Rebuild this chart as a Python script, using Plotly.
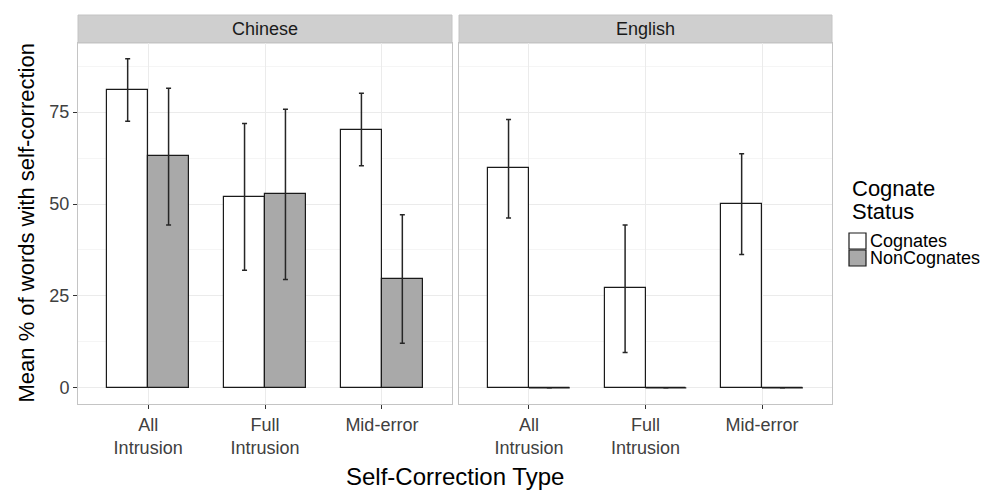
import plotly.graph_objects as go

panels = ["Chinese", "English"]
categories = ["All<br>Intrusion", "Full<br>Intrusion", "Mid-error"]
groups = ["Cognates", "NonCognates"]
legend_title = "Cognate<br>Status"

# values per panel: [All Intrusion, Full Intrusion, Mid-error]
cog_mean = {"Chinese": [81.0, 52.0, 70.2], "English": [59.8, 27.1, 50.0]}
cog_lo = {"Chinese": [72.5, 32.0, 60.4], "English": [46.2, 9.6, 36.3]}
cog_hi = {"Chinese": [89.5, 71.9, 80.1], "English": [73.0, 44.3, 63.7]}
non_mean = {"Chinese": [63.0, 52.6, 29.7], "English": [0.0, 0.0, 0.0]}
non_lo = {"Chinese": [44.3, 29.5, 12.1], "English": [0.0, 0.0, 0.0]}
non_hi = {"Chinese": [81.5, 75.8, 47.1], "English": [0.0, 0.0, 0.0]}

fills = {"Cognates": "#ffffff", "NonCognates": "#a9a9a9"}
BW = 0.35
FONT = "Liberation Sans, Arial, sans-serif"
EDGE = "#1a1a1a"

W, H = 989, 490
ML, MR, MT, MB = 78, 157, 43, 86
pw = W - ML - MR
ph = H - MT - MB


def px(xp):
    return (xp - ML) / pw


def py(yp):
    return (H - MB - yp) / ph


fig = go.Figure()
xpos = [1, 2, 3]
for pi, p in enumerate(panels):
    xa = "x" if pi == 0 else "x2"
    ya = "y" if pi == 0 else "y2"
    for g in groups:
        if g == "Cognates":
            m, lo, hi = cog_mean[p], cog_lo[p], cog_hi[p]
            off = -BW / 2
        else:
            m, lo, hi = non_mean[p], non_lo[p], non_hi[p]
            off = BW / 2
        xs = [x + off for x in xpos]
        fig.add_trace(go.Bar(
            x=xs, y=m, width=BW, xaxis=xa, yaxis=ya,
            name=g, showlegend=False,
            marker=dict(color=fills[g], line=dict(color=EDGE, width=1.2)),
            error_y=dict(type="data", symmetric=False,
                         array=[h - v for h, v in zip(hi, m)],
                         arrayminus=[v - l for v, l in zip(m, lo)],
                         color="#262626", thickness=1.5, width=2.5),
        ))
        # zero-height bars drawn as flat outlines
        lx, ly = [], []
        for x, v in zip(xs, m):
            if v == 0:
                lx += [x - BW / 2, x + BW / 2, None]
                ly += [v, v, None]
        if lx:
            fig.add_trace(go.Scatter(x=lx, y=ly, mode="lines", xaxis=xa, yaxis=ya,
                                     line=dict(color=EDGE, width=1.2),
                                     showlegend=False, hoverinfo="skip"))

d1 = [0, px(452)]
d2 = [px(459), 1]

TICKFONT = dict(family=FONT, size=18, color="#404040")
axis_common = dict(
    range=[0.4, 3.6], tickvals=xpos, ticktext=categories,
    showgrid=True, gridcolor="#ebebeb", gridwidth=1,
    showline=True, linecolor="#c4c4c4", linewidth=1, mirror=True,
    ticks="outside", ticklen=4, tickcolor="#333333", tickwidth=1,
    tickfont=TICKFONT, zeroline=False, automargin=False,
)
yax_common = dict(
    range=[-4.4, 93.8], tickvals=[0, 25, 50, 75],
    showgrid=True, gridcolor="#ebebeb", gridwidth=1,
    minor=dict(tick0=12.5, dtick=25, showgrid=True, gridcolor="#f5f5f5", gridwidth=1),
    showline=True, linecolor="#c4c4c4", linewidth=1, mirror=True,
    zeroline=False, automargin=False,
)
fig.update_layout(
    width=W, height=H,
    margin=dict(l=ML, r=MR, t=MT, b=MB, autoexpand=False),
    paper_bgcolor="white", plot_bgcolor="white",
    barmode="overlay", bargap=0,
    font=dict(family=FONT),
    showlegend=False,
    xaxis=dict(domain=d1, anchor="y", **axis_common),
    xaxis2=dict(domain=d2, anchor="y2", **axis_common),
    yaxis=dict(anchor="x", ticks="outside", ticklen=4, tickcolor="#333333",
               tickfont=TICKFONT, **yax_common),
    yaxis2=dict(anchor="x2", matches="y", showticklabels=False, ticks="", **yax_common),
)

# facet strips
strip_h = 28 / ph
for p, d in zip(panels, [d1, d2]):
    fig.add_shape(type="rect", xref="paper", yref="paper", x0=d[0], x1=d[1],
                  y0=1, y1=1 + strip_h, fillcolor="#cfcfcf",
                  line=dict(color="#c4c4c4", width=1), layer="below")
    fig.add_annotation(text=p, xref="paper", yref="paper", x=(d[0] + d[1]) / 2,
                       y=1 + strip_h / 2, showarrow=False, xanchor="center", yanchor="middle",
                       font=dict(family=FONT, size=18, color="#1a1a1a"))

# axis titles
fig.add_annotation(text="Self-Correction Type", xref="paper", yref="paper",
                   x=0.5, y=py(476), showarrow=False,
                   xanchor="center", yanchor="middle",
                   font=dict(family=FONT, size=24, color="#000000"))
fig.add_annotation(text="Mean % of words with self-correction", xref="paper", yref="paper",
                   x=px(26), y=0.5, showarrow=False, textangle=-90,
                   xanchor="center", yanchor="middle",
                   font=dict(family=FONT, size=22, color="#000000"))

# legend (drawn manually to match ggplot's compact layout)
title_lines = legend_title.split("<br>")
for i, t in enumerate(title_lines):
    fig.add_annotation(text=t, xref="paper", yref="paper", x=px(850), y=py(188 + 23 * i),
                       showarrow=False, xanchor="left", yanchor="middle",
                       font=dict(family=FONT, size=22, color="#000000"))
for i, g in enumerate(groups):
    top = 233 + 17 * i
    fig.add_shape(type="rect", xref="paper", yref="paper",
                  x0=px(849), x1=px(866), y0=py(top), y1=py(top + 16),
                  fillcolor=fills[g], line=dict(color=EDGE, width=1.2))
    fig.add_annotation(text=g, xref="paper", yref="paper", x=px(868), y=py(top + 8),
                       showarrow=False, xanchor="left", yanchor="middle",
                       font=dict(family=FONT, size=18, color="#000000"))

fig.write_html("out.html", config={"displayModeBar": False},
               post_script="document.body.style.margin='0';document.body.style.overflow='hidden';")
